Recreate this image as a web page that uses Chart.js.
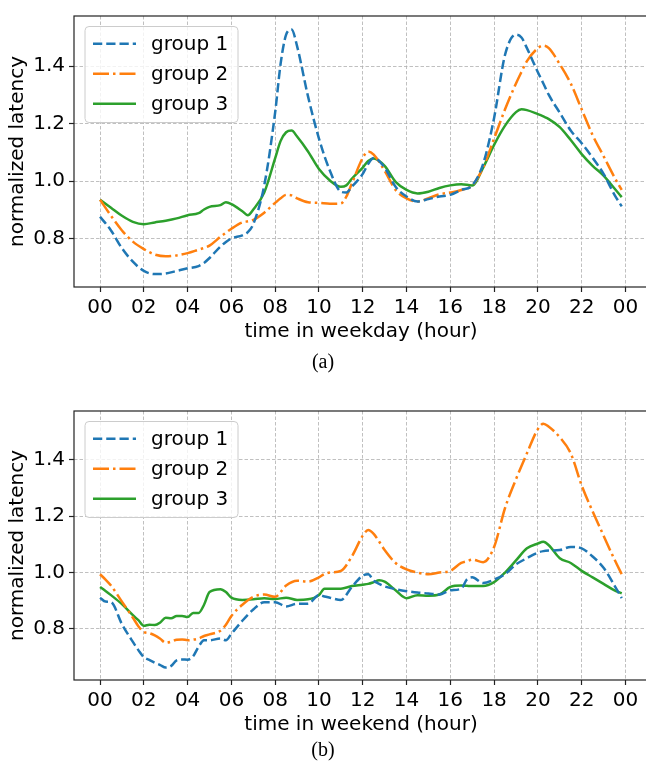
<!DOCTYPE html>
<html>
<head>
<meta charset="utf-8">
<script src="https://cdn.jsdelivr.net/npm/chart.js@4.4.0/dist/chart.umd.min.js"></script>
<style>
  html, body { margin: 0; padding: 0; background: #fff; overflow: hidden; width: 646px; height: 767px; }
  canvas { position: absolute; left: 0; }
  #weekday { top: 0; }
  #weekend { top: 395px; }
  .cap { position: absolute; left: 0; width: 646px; text-align: center; font-family: "Liberation Serif", serif; font-size: 20px; color: #000; }
</style>
</head>
<body>
<canvas id="weekday" width="680" height="395"></canvas>
<canvas id="weekend" width="680" height="372"></canvas>
<div class="cap" style="top:350px">(a)</div>
<div class="cap" style="top:738px">(b)</div>
<script>
// weekday (a)
const hoursWeekday = [0, 0.5, 1, 1.5, 2, 2.5, 3, 3.5, 4, 4.5, 4.75, 5, 5.5, 5.75, 6, 6.5, 6.75, 7, 7.5, 8, 8.25, 8.5, 8.75, 9, 9.5, 10, 10.5, 11, 11.25, 11.5, 12, 12.25, 12.5, 13, 13.5, 14, 14.5, 15, 15.5, 16, 16.5, 17, 17.5, 18, 18.5, 19, 19.25, 19.5, 20, 20.25, 20.5, 21, 21.5, 22, 22.5, 23, 23.5, 23.83];
const weekdayGroup1 = [0.876, 0.828, 0.766, 0.719, 0.687, 0.676, 0.678, 0.687, 0.696, 0.704, 0.715, 0.732, 0.772, 0.788, 0.800, 0.811, 0.822, 0.850, 0.985, 1.240, 1.410, 1.510, 1.528, 1.470, 1.295, 1.148, 1.036, 0.963, 0.960, 0.980, 1.025, 1.060, 1.080, 1.047, 0.980, 0.946, 0.929, 0.937, 0.946, 0.952, 0.969, 0.985, 1.060, 1.220, 1.440, 1.510, 1.500, 1.463, 1.379, 1.340, 1.300, 1.238, 1.176, 1.132, 1.081, 1.025, 0.952, 0.912];
const weekdayGroup2 = [0.935, 0.879, 0.828, 0.789, 0.763, 0.744, 0.738, 0.741, 0.749, 0.761, 0.767, 0.775, 0.806, 0.820, 0.834, 0.856, 0.860, 0.865, 0.890, 0.924, 0.940, 0.952, 0.950, 0.940, 0.926, 0.924, 0.921, 0.922, 0.946, 0.991, 1.081, 1.103, 1.092, 1.036, 0.969, 0.940, 0.929, 0.940, 0.954, 0.960, 0.969, 0.985, 1.047, 1.148, 1.250, 1.340, 1.380, 1.418, 1.463, 1.472, 1.463, 1.407, 1.340, 1.250, 1.160, 1.087, 1.013, 0.969];
const weekdayGroup3 = [0.935, 0.907, 0.879, 0.858, 0.850, 0.856, 0.862, 0.870, 0.881, 0.888, 0.901, 0.910, 0.916, 0.926, 0.920, 0.895, 0.881, 0.901, 0.960, 1.080, 1.140, 1.170, 1.176, 1.155, 1.103, 1.042, 1.002, 0.980, 0.985, 1.008, 1.047, 1.070, 1.079, 1.053, 0.997, 0.969, 0.957, 0.963, 0.976, 0.985, 0.989, 0.985, 1.047, 1.126, 1.193, 1.240, 1.250, 1.247, 1.233, 1.225, 1.216, 1.188, 1.143, 1.094, 1.053, 1.019, 0.974, 0.944];

// weekend (b)
const hoursWeekend = [0, 0.25, 0.5, 1, 1.5, 1.75, 2, 2.25, 2.5, 2.75, 3, 3.25, 3.5, 3.75, 4, 4.25, 4.5, 4.75, 5, 5.5, 5.75, 6, 6.5, 7, 7.5, 8, 8.5, 9, 9.5, 10, 10.25, 10.5, 11, 11.5, 12, 12.25, 12.5, 12.75, 13, 13.5, 14, 14.5, 15, 15.5, 16, 16.5, 16.75, 17, 17.5, 18, 18.5, 19, 19.5, 20, 20.25, 20.5, 21, 21.5, 22, 22.5, 23, 23.5, 23.83];
const weekendGroup1 = [0.911, 0.897, 0.895, 0.817, 0.754, 0.725, 0.700, 0.690, 0.680, 0.672, 0.663, 0.669, 0.689, 0.692, 0.691, 0.703, 0.737, 0.760, 0.760, 0.766, 0.760, 0.783, 0.829, 0.869, 0.895, 0.895, 0.880, 0.889, 0.889, 0.920, 0.915, 0.911, 0.903, 0.949, 0.989, 0.994, 0.971, 0.960, 0.951, 0.941, 0.934, 0.929, 0.926, 0.922, 0.937, 0.943, 0.975, 0.983, 0.963, 0.975, 0.994, 1.029, 1.051, 1.071, 1.076, 1.078, 1.080, 1.091, 1.086, 1.057, 1.017, 0.954, 0.909];
const weekendGroup2 = [0.994, 0.975, 0.954, 0.897, 0.840, 0.810, 0.789, 0.785, 0.777, 0.765, 0.751, 0.755, 0.762, 0.763, 0.760, 0.762, 0.766, 0.775, 0.781, 0.794, 0.815, 0.846, 0.886, 0.914, 0.922, 0.914, 0.954, 0.971, 0.968, 0.983, 0.995, 1.000, 1.006, 1.057, 1.131, 1.151, 1.137, 1.110, 1.080, 1.034, 1.011, 1.000, 0.994, 1.000, 1.006, 1.034, 1.040, 1.046, 1.037, 1.091, 1.229, 1.331, 1.423, 1.509, 1.528, 1.517, 1.480, 1.423, 1.309, 1.217, 1.131, 1.046, 0.994];
const weekendGroup3 = [0.949, 0.935, 0.920, 0.888, 0.849, 0.831, 0.811, 0.815, 0.814, 0.823, 0.840, 0.838, 0.846, 0.846, 0.842, 0.857, 0.857, 0.886, 0.931, 0.941, 0.931, 0.911, 0.903, 0.905, 0.909, 0.906, 0.911, 0.903, 0.905, 0.920, 0.943, 0.943, 0.943, 0.952, 0.957, 0.960, 0.966, 0.973, 0.968, 0.937, 0.909, 0.920, 0.918, 0.922, 0.949, 0.954, 0.953, 0.952, 0.952, 0.966, 1.000, 1.043, 1.086, 1.103, 1.109, 1.097, 1.051, 1.034, 1.006, 0.983, 0.960, 0.937, 0.926];

const groupNames = ['group 1', 'group 2', 'group 3'];
const tickHours = [0, 2, 4, 6, 8, 10, 12, 14, 16, 18, 20, 22, 24];
const tickLabels = ['00', '02', '04', '06', '08', '10', '12', '14', '16', '18', '20', '22', '00'];
const yTicks = [0.8, 1.0, 1.2, 1.4];

const colors = ['#1f77b4', '#ff7f0e', '#2ca02c'];
const dashes = [[9.25, 4], [16, 4, 2.5, 4], []];
const FONT = 'DejaVu Sans';

// matplotlib-like legend in the upper left corner
const legendBox = {
    id: 'legendBox',
    afterDraw(chart) {
        const ctx = chart.ctx;
        const area = chart.chartArea;
        const x0 = area.left + 11, y0 = area.top + 10.5;
        ctx.save();
        ctx.beginPath();
        ctx.roundRect(x0, y0, 153, 96, 4);
        ctx.fillStyle = 'rgba(255,255,255,0.8)';
        ctx.fill();
        ctx.strokeStyle = '#cccccc';
        ctx.lineWidth = 1;
        ctx.stroke();
        chart.data.datasets.forEach((ds, i) => {
            const y = y0 + 17.3 + i * 30;
            ctx.beginPath();
            ctx.setLineDash(ds.borderDash);
            ctx.strokeStyle = ds.borderColor;
            ctx.lineWidth = ds.borderWidth;
            ctx.moveTo(x0 + 8, y);
            ctx.lineTo(x0 + 51, y);
            ctx.stroke();
            ctx.setLineDash([]);
            ctx.fillStyle = '#000';
            ctx.font = '20px "' + FONT + '"';
            ctx.textBaseline = 'middle';
            ctx.fillText(ds.label, x0 + 66, y + 1);
        });
        ctx.restore();
    }
};

// axes frame (all four spines)
const frame = {
    id: 'frame',
    afterDatasetsDraw(chart) {
        const ctx = chart.ctx;
        const a = chart.chartArea;
        ctx.save();
        ctx.strokeStyle = '#222';
        ctx.lineWidth = 1.2;
        ctx.strokeRect(a.left, a.top, a.right - a.left, a.bottom - a.top);
        ctx.restore();
    }
};

function makeChart(id, hours, series, xTitle, yMin, yMax, padTop, padBottom) {
    const datasets = series.map((vals, i) => ({
        label: groupNames[i],
        data: hours.map((h, j) => ({x: h, y: vals[j]})),
        borderColor: colors[i],
        borderWidth: 2.5,
        borderDash: dashes[i],
        pointRadius: 0,
        fill: false,
        cubicInterpolationMode: 'monotone'
    }));
    const gridOpts = {
        color: '#b0b0b0',
        lineWidth: 0.8,
        tickLength: 5,
        tickColor: '#222',
        tickWidth: 1.2,
        tickBorderDash: []
    };
    const borderOpts = { display: false, dash: [3.5, 2] };
    return new Chart(document.getElementById(id).getContext('2d'), {
        type: 'line',
        data: { datasets: datasets },
        options: {
            responsive: false,
            animation: false,
            devicePixelRatio: 1,
            layout: { padding: { left: 0, right: 32, top: padTop, bottom: padBottom } },
            plugins: { legend: { display: false }, tooltip: { enabled: false } },
            scales: {
                x: {
                    type: 'linear',
                    min: -1.19,
                    max: 25.03,
                    border: borderOpts,
                    grid: gridOpts,
                    afterBuildTicks: s => { s.ticks = tickHours.map(v => ({value: v})); },
                    afterFit: s => { s.height = 57; },
                    ticks: {
                        autoSkip: false,
                        maxRotation: 0,
                        padding: 4,
                        color: '#000',
                        font: { family: FONT, size: 20 },
                        callback: (v, i) => tickLabels[i]
                    },
                    title: {
                        display: true,
                        text: xTitle,
                        color: '#000',
                        padding: { top: 0, bottom: 0 },
                        font: { family: FONT, size: 20 }
                    }
                },
                y: {
                    min: yMin,
                    max: yMax,
                    border: borderOpts,
                    grid: gridOpts,
                    afterBuildTicks: s => { s.ticks = yTicks.map(v => ({value: v})); },
                    afterFit: s => { s.width = 74; },
                    ticks: {
                        padding: 4,
                        color: '#000',
                        font: { family: FONT, size: 20 },
                        callback: v => v.toFixed(1)
                    },
                    title: {
                        display: true,
                        text: 'normalized latency',
                        color: '#000',
                        padding: { top: 6, bottom: 0 },
                        font: { family: FONT, size: 20 }
                    }
                }
            }
        },
        plugins: [frame, legendBox]
    });
}

makeChart('weekday', hoursWeekday, [weekdayGroup1, weekdayGroup2, weekdayGroup3],
    'time in weekday (hour)', 0.631, 1.575, 7, 395 - 287 - 57);
makeChart('weekend', hoursWeekend, [weekendGroup1, weekendGroup2, weekendGroup3],
    'time in weekend (hour)', 0.619, 1.573, 6.7, 372 - 285 - 57);
</script>
</body>
</html>
